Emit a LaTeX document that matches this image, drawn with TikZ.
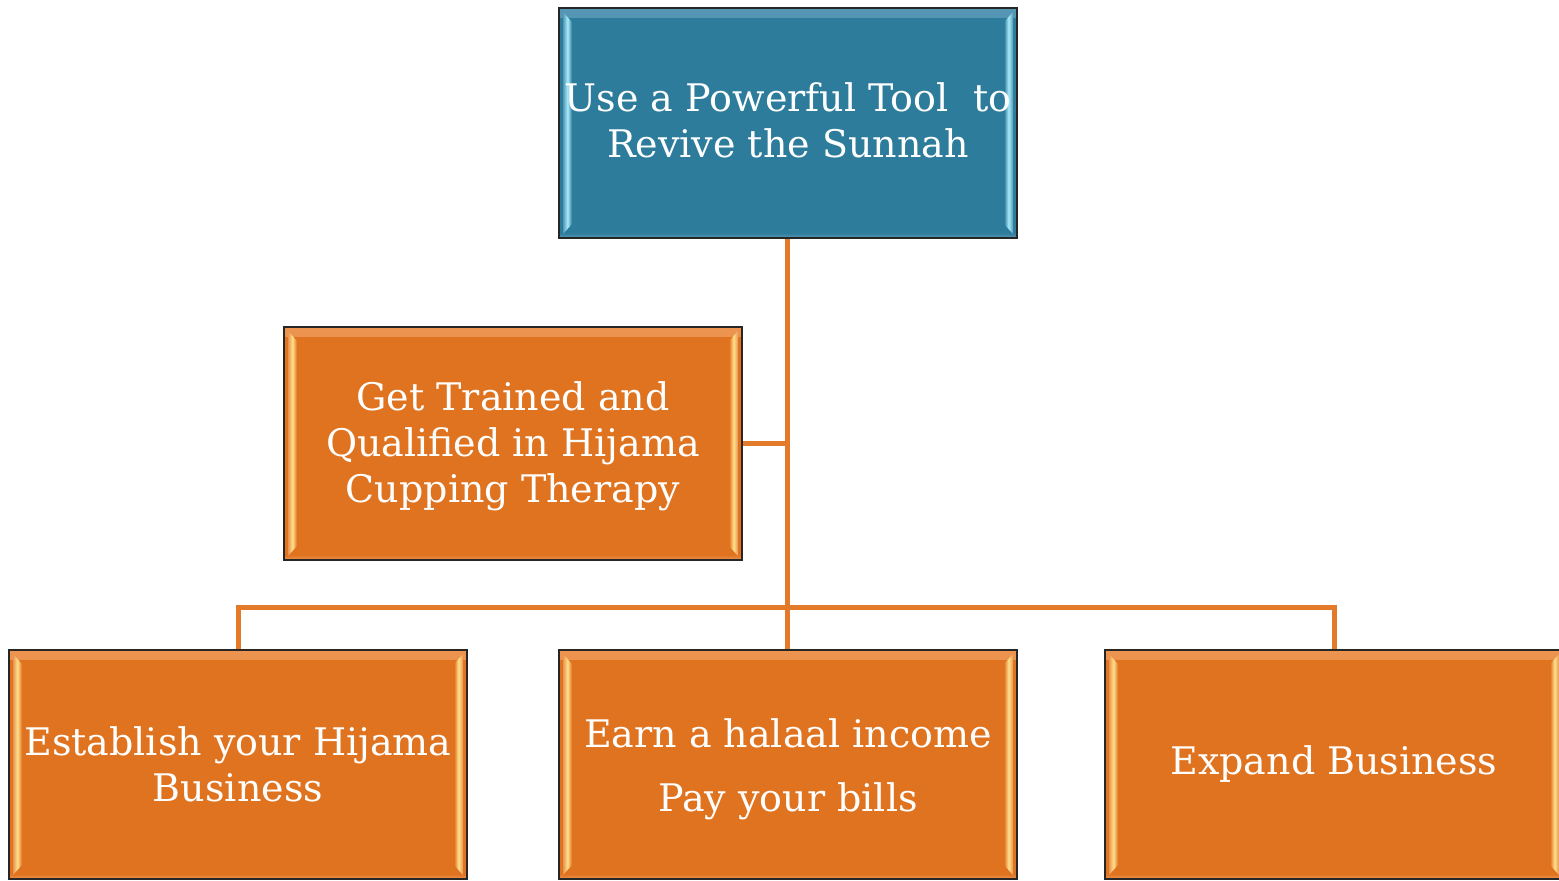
\documentclass[tikz,border=0pt]{standalone}
\usepackage{fontspec}
\setmainfont{DejaVu Serif}
\definecolor{orfill}{HTML}{E0731F}
\definecolor{orlight}{HTML}{FFE08C}
\definecolor{ortop}{HTML}{EC9450}
\definecolor{blfill}{HTML}{2E7C9C}
\definecolor{bllight}{HTML}{A8ECFA}
\definecolor{bltop}{HTML}{5597B5}
\definecolor{conn}{HTML}{E27A2A}
\tikzset{
  bevel/.style n args={3}{fill=#1, path picture={
    \shade[top color=#3, bottom color=#1]
      (path picture bounding box.north west) rectangle ([yshift=-4.5pt]path picture bounding box.north east);
    \shade[top color=#1, bottom color=#3]
      ([yshift=2.5pt]path picture bounding box.south west) rectangle (path picture bounding box.south east);
    \shade[left color=#3, right color=#1, middle color=#2]
      ([xshift=2pt,yshift=-2pt]path picture bounding box.north west) --
      ([xshift=6.5pt,yshift=-7pt]path picture bounding box.north west) --
      ([xshift=6.5pt,yshift=7pt]path picture bounding box.south west) --
      ([xshift=2pt,yshift=2pt]path picture bounding box.south west) -- cycle;
    \shade[left color=#1, right color=#3, middle color=#2]
      ([xshift=-2pt,yshift=-2pt]path picture bounding box.north east) --
      ([xshift=-6.5pt,yshift=-7pt]path picture bounding box.north east) --
      ([xshift=-6.5pt,yshift=7pt]path picture bounding box.south east) --
      ([xshift=-2pt,yshift=2pt]path picture bounding box.south east) -- cycle;
  }},
  box/.style={draw=black!85, line width=1pt, minimum width=229pt, minimum height=#1,
    inner sep=0pt, text=white, align=center,
    font=\fontsize{19}{23}\selectfont},
  orbox/.style={box=#1, bevel={orfill}{orlight}{ortop}},
  blbox/.style={box=#1, bevel={blfill}{bllight}{bltop}},
  link/.style={draw=conn, line width=2.5pt},
}
\begin{document}
\begin{tikzpicture}[x=0.5pt, y=-0.5pt]
\useasboundingbox (0,0) rectangle (1559,880);
\node[blbox=115pt] (top) at (788,123) {Use a Powerful Tool\ \ to\\Revive the Sunnah\\[-20pt]};
\node[orbox=116.5pt] (mid) at (513,443.5) {\\[-6pt]Get Trained and\\Qualified in Hijama\\Cupping Therapy};
\node[orbox=114.5pt] (bl) at (238,764.5) {Establish your Hijama\\Business};
\node[orbox=114.5pt] (bm) at (788,764.5) {\\[-4pt]Earn a halaal income\\[9pt]Pay your bills};
\node[orbox=114.5pt] (br) at (1334,764.5) {Expand Business};
\coordinate (j) at (787,607);
\path[link] (top.south -| j) -- (j);
\path[link] (mid.east) -- (mid.east -| j);
\path[link] (bl.north) |- (j) -| (br.north);
\path[link] (j) -- (bm.north -| j);
\end{tikzpicture}
\end{document}
